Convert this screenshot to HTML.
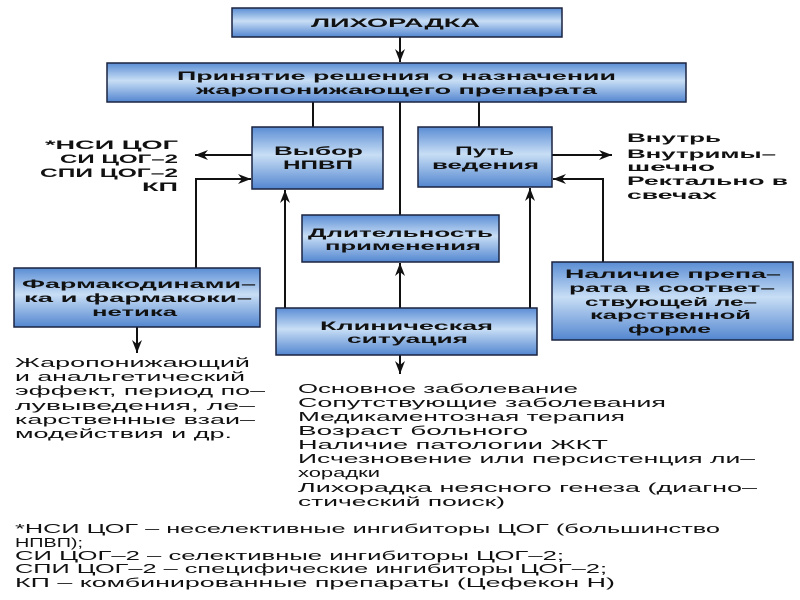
<!DOCTYPE html>
<html><head><meta charset="utf-8"><style>html,body{margin:0;padding:0;background:#fff}svg{display:block}</style></head>
<body>
<svg width="800" height="600" viewBox="0 0 800 600" xmlns="http://www.w3.org/2000/svg" font-family="Liberation Sans, sans-serif">
<defs>
<linearGradient id="g" x1="0" y1="0" x2="0" y2="1">
<stop offset="0" stop-color="#5a8dd4"/><stop offset="0.45" stop-color="#c8def5"/><stop offset="1" stop-color="#5386d0"/>
</linearGradient>
<marker id="a" markerWidth="14" markerHeight="12" refX="13" refY="6" orient="auto" markerUnits="userSpaceOnUse">
<path d="M0,1 L13,6 L0,11 L4,6 Z" fill="#111"/></marker>
</defs>
<g stroke="#111" stroke-width="2" fill="none">
<line x1="400" y1="37" x2="400" y2="62" marker-end="url(#a)"/>
<line x1="313" y1="102" x2="313" y2="127"/>
<line x1="400" y1="102" x2="400" y2="215"/>
<line x1="479" y1="102" x2="479" y2="127"/>
<line x1="252" y1="155" x2="195" y2="155" marker-end="url(#a)"/>
<polyline points="196,268 196,179 251,179" marker-end="url(#a)"/>
<line x1="285" y1="308" x2="285" y2="190" marker-end="url(#a)"/>
<line x1="400" y1="308" x2="400" y2="263" marker-end="url(#a)"/>
<line x1="530" y1="308" x2="530" y2="188" marker-end="url(#a)"/>
<line x1="552" y1="155" x2="612" y2="155" marker-end="url(#a)"/>
<polyline points="603,262 603,179 553,179" marker-end="url(#a)"/>
<line x1="137" y1="327" x2="137" y2="353" marker-end="url(#a)"/>
<line x1="400" y1="355" x2="400" y2="374" marker-end="url(#a)"/>
</g>
<g stroke="#1a2440" stroke-width="1.5" fill="url(#g)">
<rect x="232" y="8" width="330" height="29"/>
<rect x="107" y="63" width="579" height="39"/>
<rect x="252" y="127" width="131" height="62"/>
<rect x="418" y="127" width="134" height="60"/>
<rect x="302" y="215" width="197" height="47"/>
<rect x="14" y="268" width="246" height="59"/>
<rect x="276" y="308" width="261" height="47"/>
<rect x="552" y="262" width="241" height="78"/>
</g>
<g font-weight="bold" font-size="12" fill="#111">
<text x="311" y="27" textLength="169" lengthAdjust="spacingAndGlyphs">ЛИХОРАДКА</text>
<text x="177" y="80" textLength="439" lengthAdjust="spacingAndGlyphs">Принятие решения о назначении</text>
<text x="196" y="94" textLength="401" lengthAdjust="spacingAndGlyphs">жаропонижающего препарата</text>
<text x="274" y="155" textLength="89" lengthAdjust="spacingAndGlyphs">Выбор</text>
<text x="283" y="169" textLength="70" lengthAdjust="spacingAndGlyphs">НПВП</text>
<text x="455" y="155" textLength="59" lengthAdjust="spacingAndGlyphs">Путь</text>
<text x="432" y="169" textLength="107" lengthAdjust="spacingAndGlyphs">ведения</text>
<text x="45" y="149" textLength="133" lengthAdjust="spacingAndGlyphs">*НСИ ЦОГ</text>
<text x="60" y="163" textLength="118" lengthAdjust="spacingAndGlyphs">СИ ЦОГ–2</text>
<text x="40" y="177" textLength="138" lengthAdjust="spacingAndGlyphs">СПИ ЦОГ–2</text>
<text x="142" y="191" textLength="36" lengthAdjust="spacingAndGlyphs">КП</text>
<text x="627" y="142" textLength="94" lengthAdjust="spacingAndGlyphs">Внутрь</text>
<text x="627" y="158" textLength="149" lengthAdjust="spacingAndGlyphs">Внутримы–</text>
<text x="627" y="171" textLength="88" lengthAdjust="spacingAndGlyphs">шечно</text>
<text x="627" y="185" textLength="161" lengthAdjust="spacingAndGlyphs">Ректально в</text>
<text x="627" y="199" textLength="90" lengthAdjust="spacingAndGlyphs">свечах</text>
<text x="308" y="237" textLength="185" lengthAdjust="spacingAndGlyphs">Длительность</text>
<text x="325" y="250" textLength="156" lengthAdjust="spacingAndGlyphs">применения</text>
<text x="22" y="288" textLength="234" lengthAdjust="spacingAndGlyphs">Фармакодинами–</text>
<text x="24" y="302" textLength="228" lengthAdjust="spacingAndGlyphs">ка и фармакоки–</text>
<text x="92" y="316" textLength="85" lengthAdjust="spacingAndGlyphs">нетика</text>
<text x="320" y="330" textLength="173" lengthAdjust="spacingAndGlyphs">Клиническая</text>
<text x="347" y="343" textLength="121" lengthAdjust="spacingAndGlyphs">ситуация</text>
<text x="565" y="278" textLength="216" lengthAdjust="spacingAndGlyphs">Наличие препа–</text>
<text x="569" y="292" textLength="206" lengthAdjust="spacingAndGlyphs">рата в соответ–</text>
<text x="585" y="306" textLength="172" lengthAdjust="spacingAndGlyphs">ствующей ле–</text>
<text x="590" y="319" textLength="161" lengthAdjust="spacingAndGlyphs">карственной</text>
<text x="628" y="333" textLength="83" lengthAdjust="spacingAndGlyphs">форме</text>
</g>
<g font-size="12.5" fill="#111">
<text x="15" y="367" textLength="235" lengthAdjust="spacingAndGlyphs">Жаропонижающий</text>
<text x="15" y="381" textLength="230" lengthAdjust="spacingAndGlyphs">и анальгетический</text>
<text x="15" y="395" textLength="250" lengthAdjust="spacingAndGlyphs">эффект, период по–</text>
<text x="15" y="410" textLength="240" lengthAdjust="spacingAndGlyphs">лувыведения, ле–</text>
<text x="15" y="424" textLength="240" lengthAdjust="spacingAndGlyphs">карственные взаи–</text>
<text x="15" y="438" textLength="217" lengthAdjust="spacingAndGlyphs">модействия  и др.</text>
<text x="298" y="393" textLength="280" lengthAdjust="spacingAndGlyphs">Основное заболевание</text>
<text x="298" y="407" textLength="368" lengthAdjust="spacingAndGlyphs">Сопутствующие заболевания</text>
<text x="298" y="421" textLength="327" lengthAdjust="spacingAndGlyphs">Медикаментозная терапия</text>
<text x="298" y="435" textLength="230" lengthAdjust="spacingAndGlyphs">Возраст больного</text>
<text x="298" y="449" textLength="310" lengthAdjust="spacingAndGlyphs">Наличие патологии ЖКТ</text>
<text x="298" y="463" textLength="457" lengthAdjust="spacingAndGlyphs">Исчезновение или персистенция ли–</text>
<text x="298" y="477" textLength="82" lengthAdjust="spacingAndGlyphs">хорадки</text>
<text x="298" y="492" textLength="459" lengthAdjust="spacingAndGlyphs">Лихорадка неясного генеза (диагно–</text>
<text x="298" y="506" textLength="207" lengthAdjust="spacingAndGlyphs">стический поиск)</text>
<text x="15" y="533" textLength="705" lengthAdjust="spacingAndGlyphs">*НСИ ЦОГ – неселективные ингибиторы ЦОГ (большинство</text>
<text x="15" y="547" textLength="68" lengthAdjust="spacingAndGlyphs">НПВП);</text>
<text x="15" y="560" textLength="549" lengthAdjust="spacingAndGlyphs">СИ ЦОГ–2 – селективные ингибиторы ЦОГ–2;</text>
<text x="15" y="573" textLength="592" lengthAdjust="spacingAndGlyphs">СПИ ЦОГ–2 – специфические ингибиторы ЦОГ–2;</text>
<text x="15" y="587" textLength="600" lengthAdjust="spacingAndGlyphs">КП – комбинированные препараты (Цефекон Н)</text>
</g>
</svg>
</body></html>
